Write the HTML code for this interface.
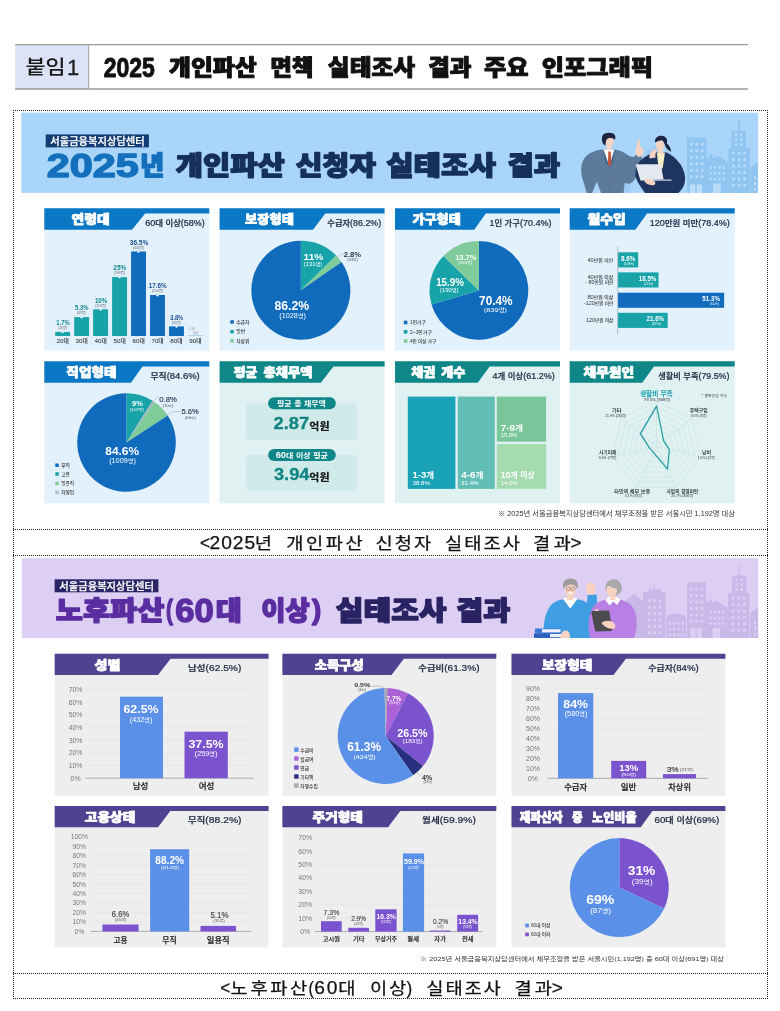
<!DOCTYPE html>
<html lang="ko"><head><meta charset="utf-8"><title>2025 개인파산 면책 실태조사 결과 주요 인포그래픽</title>
<style>html,body{margin:0;padding:0;background:#fff}body{width:780px;height:1011px;overflow:hidden}svg{display:block}text{font-family:'Liberation Sans','Noto Sans CJK KR',sans-serif}</style>
</head><body>
<svg width="780" height="1011" viewBox="0 0 780 1011" role="img" aria-label="개인파산 면책 실태조사 인포그래픽">
<rect x="0.00" y="0.00" width="780.00" height="1011.00" fill="#fff" />
<rect x="15.20" y="44.60" width="73.50" height="44.40" fill="#dde3f6" />
<path d="M15.2,44.6 H748 M15.2,89 H748" stroke="#9a9a9a" stroke-width="1.3" fill="none"/>
<path d="M88.7,44.6 V89" stroke="#a0a0a0" stroke-width="1" fill="none"/>
<text x="25.40" y="73.70" font-size="19.4" font-weight="500" fill="#1a1a1a" textLength="40.20" lengthAdjust="spacingAndGlyphs">붙임</text>
<text x="66.90" y="74.60" font-size="22" font-weight="400" fill="#1a1a1a" stroke="#1a1a1a" stroke-width="0.3" stroke-linejoin="round">1</text>
<text x="103.67" y="76.60" font-size="28.5" font-weight="900" fill="#111" textLength="51.20" lengthAdjust="spacingAndGlyphs" stroke="#111" stroke-width="0.95" stroke-linejoin="round">2025</text>
<text x="168.97" y="75.00" font-size="21.8" font-weight="900" fill="#111" textLength="87.81" lengthAdjust="spacingAndGlyphs" stroke="#111" stroke-width="0.95" stroke-linejoin="round">개인파산</text>
<text x="270.18" y="75.00" font-size="21.8" font-weight="900" fill="#111" textLength="43.40" lengthAdjust="spacingAndGlyphs" stroke="#111" stroke-width="0.95" stroke-linejoin="round">면책</text>
<text x="327.88" y="75.00" font-size="21.8" font-weight="900" fill="#111" textLength="87.31" lengthAdjust="spacingAndGlyphs" stroke="#111" stroke-width="0.95" stroke-linejoin="round">실태조사</text>
<text x="428.18" y="75.00" font-size="21.8" font-weight="900" fill="#111" textLength="43.40" lengthAdjust="spacingAndGlyphs" stroke="#111" stroke-width="0.95" stroke-linejoin="round">결과</text>
<text x="483.98" y="75.00" font-size="21.8" font-weight="900" fill="#111" textLength="44.62" lengthAdjust="spacingAndGlyphs" stroke="#111" stroke-width="0.95" stroke-linejoin="round">주요</text>
<text x="541.68" y="75.00" font-size="21.8" font-weight="900" fill="#111" textLength="111.23" lengthAdjust="spacingAndGlyphs" stroke="#111" stroke-width="0.95" stroke-linejoin="round">인포그래픽</text>
<g stroke="#222" stroke-width="1" stroke-dasharray="1 1" fill="none" shape-rendering="crispEdges">
<path d="M13,110.5 H768 M13,998.5 H768 M13.5,110 V999 M767.5,110 V999"/>
<path d="M13,529.5 H768 M13,555.5 H768 M13,973.5 H768"/>
</g>
<text x="199.90" y="548.70" font-size="17.6" font-weight="400" fill="#111" textLength="10.10" lengthAdjust="spacingAndGlyphs" stroke="#111" stroke-width="0.25" stroke-linejoin="round">&lt;</text>
<text x="209.62" y="548.70" font-size="17.6" font-weight="400" fill="#111" textLength="46.40" lengthAdjust="spacingAndGlyphs" letter-spacing="0.85" stroke="#111" stroke-width="0.25" stroke-linejoin="round">2025</text>
<text x="254.84" y="548.70" font-size="16.4" font-weight="400" fill="#111" textLength="19.32" lengthAdjust="spacingAndGlyphs" letter-spacing="1.84" stroke="#111" stroke-width="0.25" stroke-linejoin="round">년</text>
<text x="286.34" y="548.70" font-size="16.4" font-weight="400" fill="#111" textLength="79.07" lengthAdjust="spacingAndGlyphs" letter-spacing="2.23" stroke="#111" stroke-width="0.25" stroke-linejoin="round">개인파산</text>
<text x="375.64" y="548.70" font-size="16.4" font-weight="400" fill="#111" textLength="57.45" lengthAdjust="spacingAndGlyphs" letter-spacing="1.69" stroke="#111" stroke-width="0.25" stroke-linejoin="round">신청자</text>
<text x="445.04" y="548.70" font-size="16.4" font-weight="400" fill="#111" textLength="77.07" lengthAdjust="spacingAndGlyphs" letter-spacing="1.79" stroke="#111" stroke-width="0.25" stroke-linejoin="round">실태조사</text>
<text x="533.04" y="548.70" font-size="16.4" font-weight="400" fill="#111" textLength="41.20" lengthAdjust="spacingAndGlyphs" letter-spacing="2.96" stroke="#111" stroke-width="0.25" stroke-linejoin="round">결과</text>
<text x="570.50" y="548.70" font-size="17.6" font-weight="400" fill="#111" textLength="11.00" lengthAdjust="spacingAndGlyphs" stroke="#111" stroke-width="0.25" stroke-linejoin="round">&gt;</text>
<text x="220.30" y="993.60" font-size="17.6" font-weight="400" fill="#111" textLength="10.00" lengthAdjust="spacingAndGlyphs" stroke="#111" stroke-width="0.25" stroke-linejoin="round">&lt;</text>
<text x="230.54" y="993.60" font-size="16.4" font-weight="400" fill="#111" textLength="79.47" lengthAdjust="spacingAndGlyphs" letter-spacing="2.32" stroke="#111" stroke-width="0.25" stroke-linejoin="round">노후파산</text>
<text x="308.40" y="993.60" font-size="17.6" font-weight="400" fill="#111" textLength="5.30" lengthAdjust="spacingAndGlyphs" stroke="#111" stroke-width="0.25" stroke-linejoin="round">(</text>
<text x="314.32" y="993.60" font-size="17.6" font-weight="400" fill="#111" textLength="24.80" lengthAdjust="spacingAndGlyphs" letter-spacing="1.58" stroke="#111" stroke-width="0.25" stroke-linejoin="round">60</text>
<text x="338.24" y="993.60" font-size="16.4" font-weight="400" fill="#111" textLength="19.32" lengthAdjust="spacingAndGlyphs" letter-spacing="1.84" stroke="#111" stroke-width="0.25" stroke-linejoin="round">대</text>
<text x="370.04" y="993.60" font-size="16.4" font-weight="400" fill="#111" textLength="37.80" lengthAdjust="spacingAndGlyphs" letter-spacing="1.47" stroke="#111" stroke-width="0.25" stroke-linejoin="round">이상</text>
<text x="406.60" y="993.60" font-size="17.6" font-weight="400" fill="#111" textLength="5.70" lengthAdjust="spacingAndGlyphs" stroke="#111" stroke-width="0.25" stroke-linejoin="round">)</text>
<text x="426.34" y="993.60" font-size="16.4" font-weight="400" fill="#111" textLength="76.27" lengthAdjust="spacingAndGlyphs" letter-spacing="1.61" stroke="#111" stroke-width="0.25" stroke-linejoin="round">실태조사</text>
<text x="514.44" y="993.60" font-size="16.4" font-weight="400" fill="#111" textLength="40.40" lengthAdjust="spacingAndGlyphs" letter-spacing="2.61" stroke="#111" stroke-width="0.25" stroke-linejoin="round">결과</text>
<text x="551.80" y="993.60" font-size="17.6" font-weight="400" fill="#111" textLength="11.10" lengthAdjust="spacingAndGlyphs" stroke="#111" stroke-width="0.25" stroke-linejoin="round">&gt;</text>
<rect x="21.30" y="112.70" width="736.90" height="80.20" fill="#aad5fa" />
<rect x="45.70" y="134.40" width="103.20" height="13.00" fill="#123c73" />
<text x="97.50" y="144.70" font-size="10.2" font-weight="500" fill="#fff" text-anchor="middle" textLength="94.50" lengthAdjust="spacingAndGlyphs" stroke="#fff" stroke-width="0.25" stroke-linejoin="round">서울금융복지상담센터</text>
<text x="46.70" y="177.30" font-size="32.4" font-weight="900" fill="#1470bc" textLength="92.11" lengthAdjust="spacingAndGlyphs" stroke="#1470bc" stroke-width="1.4" stroke-linejoin="round">2025</text>
<text x="140.00" y="175.40" font-size="26.5" font-weight="900" fill="#1470bc" textLength="24.35" lengthAdjust="spacingAndGlyphs" stroke="#1470bc" stroke-width="1.4" stroke-linejoin="round">년</text>
<text x="175.80" y="175.40" font-size="26.5" font-weight="900" fill="#16305c" textLength="108.95" lengthAdjust="spacingAndGlyphs" stroke="#16305c" stroke-width="1.4" stroke-linejoin="round">개인파산</text>
<text x="295.80" y="175.40" font-size="26.5" font-weight="900" fill="#16305c" textLength="80.13" lengthAdjust="spacingAndGlyphs" stroke="#16305c" stroke-width="1.4" stroke-linejoin="round">신청자</text>
<text x="386.20" y="175.40" font-size="26.5" font-weight="900" fill="#16305c" textLength="109.76" lengthAdjust="spacingAndGlyphs" stroke="#16305c" stroke-width="1.4" stroke-linejoin="round">실태조사</text>
<text x="507.40" y="175.40" font-size="26.5" font-weight="900" fill="#16305c" textLength="52.72" lengthAdjust="spacingAndGlyphs" stroke="#16305c" stroke-width="1.4" stroke-linejoin="round">결과</text>
<rect x="44.30" y="208.30" width="165.00" height="142.30" fill="#e2f1fc" />
<rect x="219.60" y="208.30" width="165.00" height="142.30" fill="#e2f1fc" />
<rect x="395.00" y="208.30" width="165.00" height="142.30" fill="#e2f1fc" />
<rect x="569.70" y="208.30" width="165.00" height="142.30" fill="#e2f1fc" />
<path d="M44.30,208.30 H209.30 V213.40 L145.10,213.40 L132.00,229.80 H44.30 Z" fill="#0b78c6"/>
<text x="71.58" y="224.20" font-size="12.5" font-weight="900" fill="#fff" textLength="38.09" lengthAdjust="spacingAndGlyphs" stroke="#fff" stroke-width="0.75" stroke-linejoin="round">연령대</text>
<text x="145.30" y="225.50" font-size="8.6" font-weight="500" fill="#1c2740" textLength="59.50" lengthAdjust="spacingAndGlyphs" stroke="#1c2740" stroke-width="0.22">60<tspan font-size="8.00">대</tspan> <tspan font-size="8.00">이상</tspan>(58%)</text>
<path d="M219.60,208.30 H384.60 V213.40 L325.30,213.40 L313.00,229.80 H219.60 Z" fill="#0b78c6"/>
<text x="245.07" y="224.20" font-size="12.5" font-weight="900" fill="#fff" textLength="48.77" lengthAdjust="spacingAndGlyphs" stroke="#fff" stroke-width="0.75" stroke-linejoin="round">보장형태</text>
<text x="327.30" y="225.50" font-size="8.6" font-weight="500" fill="#1c2740" textLength="53.90" lengthAdjust="spacingAndGlyphs" stroke="#1c2740" stroke-width="0.22"><tspan font-size="8.00">수급자</tspan>(86.2%)</text>
<path d="M395.00,208.30 H560.00 V213.40 L485.80,213.40 L474.20,229.80 H395.00 Z" fill="#0b78c6"/>
<text x="412.47" y="224.20" font-size="12.5" font-weight="900" fill="#fff" textLength="48.27" lengthAdjust="spacingAndGlyphs" stroke="#fff" stroke-width="0.75" stroke-linejoin="round">가구형태</text>
<text x="489.40" y="225.50" font-size="8.6" font-weight="500" fill="#1c2740" textLength="62.10" lengthAdjust="spacingAndGlyphs" stroke="#1c2740" stroke-width="0.22">1<tspan font-size="8.00">인</tspan> <tspan font-size="8.00">가구</tspan>(70.4%)</text>
<path d="M569.70,208.30 H734.70 V213.40 L647.00,213.40 L635.40,229.80 H569.70 Z" fill="#0b78c6"/>
<text x="587.48" y="224.20" font-size="12.5" font-weight="900" fill="#fff" textLength="38.39" lengthAdjust="spacingAndGlyphs" stroke="#fff" stroke-width="0.75" stroke-linejoin="round">월수입</text>
<text x="649.70" y="225.50" font-size="8.6" font-weight="500" fill="#1c2740" textLength="80.10" lengthAdjust="spacingAndGlyphs" stroke="#1c2740" stroke-width="0.22">120<tspan font-size="8.00">만원</tspan> <tspan font-size="8.00">미만</tspan>(78.4%)</text>
<path d="M51,336.0 H203" stroke="#cfe3f2" stroke-width="0.5"/>
<rect x="55.20" y="331.90" width="14.90" height="4.10" fill="#18a3a8" />
<circle cx="62.65" cy="332.10" r="1.25" fill="#fff" stroke="#18a3a8" stroke-width="0.25"/>
<text x="56.35" y="325.10" font-size="6.9" font-weight="700" fill="#12898f" textLength="13.50" lengthAdjust="spacingAndGlyphs">1.7%</text>
<text x="62.65" y="329.20" font-size="3.4" font-weight="400" fill="#666" text-anchor="middle">(20명)</text>
<text x="56.55" y="342.70" font-size="5.8" font-weight="500" fill="#222" textLength="12.30" lengthAdjust="spacingAndGlyphs">20<tspan font-size="5.34">대</tspan></text>
<rect x="74.17" y="317.10" width="14.90" height="18.90" fill="#18a3a8" />
<circle cx="81.62" cy="317.30" r="1.25" fill="#fff" stroke="#18a3a8" stroke-width="0.25"/>
<text x="75.05" y="310.30" font-size="6.9" font-weight="700" fill="#12898f" textLength="13.30" lengthAdjust="spacingAndGlyphs">5.3%</text>
<text x="81.62" y="314.40" font-size="3.4" font-weight="400" fill="#666" text-anchor="middle">(63명)</text>
<text x="75.52" y="342.70" font-size="5.8" font-weight="500" fill="#222" textLength="12.30" lengthAdjust="spacingAndGlyphs">30<tspan font-size="5.34">대</tspan></text>
<rect x="93.14" y="309.30" width="14.90" height="26.70" fill="#18a3a8" />
<circle cx="100.59" cy="309.50" r="1.25" fill="#fff" stroke="#18a3a8" stroke-width="0.25"/>
<text x="94.95" y="302.50" font-size="6.9" font-weight="700" fill="#12898f" textLength="12.30" lengthAdjust="spacingAndGlyphs">10%</text>
<text x="100.59" y="306.60" font-size="3.4" font-weight="400" fill="#666" text-anchor="middle">(119명)</text>
<text x="94.49" y="342.70" font-size="5.8" font-weight="500" fill="#222" textLength="12.30" lengthAdjust="spacingAndGlyphs">40<tspan font-size="5.34">대</tspan></text>
<rect x="112.11" y="277.10" width="14.90" height="58.90" fill="#18a3a8" />
<circle cx="119.56" cy="277.30" r="1.25" fill="#fff" stroke="#18a3a8" stroke-width="0.25"/>
<text x="113.35" y="270.30" font-size="6.9" font-weight="700" fill="#12898f" textLength="13.00" lengthAdjust="spacingAndGlyphs">25%</text>
<text x="119.56" y="274.40" font-size="3.4" font-weight="400" fill="#666" text-anchor="middle">(298명)</text>
<text x="113.46" y="342.70" font-size="5.8" font-weight="500" fill="#222" textLength="12.30" lengthAdjust="spacingAndGlyphs">50<tspan font-size="5.34">대</tspan></text>
<rect x="131.08" y="251.50" width="14.90" height="84.50" fill="#116bbd" />
<circle cx="138.53" cy="251.70" r="1.25" fill="#fff" stroke="#116bbd" stroke-width="0.25"/>
<text x="129.75" y="244.70" font-size="6.9" font-weight="700" fill="#1a4f92" textLength="18.50" lengthAdjust="spacingAndGlyphs">36.5%</text>
<text x="138.53" y="248.80" font-size="3.4" font-weight="400" fill="#666" text-anchor="middle">(435명)</text>
<text x="132.43" y="342.70" font-size="5.8" font-weight="500" fill="#222" textLength="12.30" lengthAdjust="spacingAndGlyphs">60<tspan font-size="5.34">대</tspan></text>
<rect x="150.05" y="295.00" width="14.90" height="41.00" fill="#116bbd" />
<circle cx="157.50" cy="295.20" r="1.25" fill="#fff" stroke="#116bbd" stroke-width="0.25"/>
<text x="148.65" y="288.20" font-size="6.9" font-weight="700" fill="#1a4f92" textLength="18.10" lengthAdjust="spacingAndGlyphs">17.6%</text>
<text x="157.50" y="292.30" font-size="3.4" font-weight="400" fill="#666" text-anchor="middle">(210명)</text>
<text x="151.40" y="342.70" font-size="5.8" font-weight="500" fill="#222" textLength="12.30" lengthAdjust="spacingAndGlyphs">70<tspan font-size="5.34">대</tspan></text>
<rect x="169.02" y="326.40" width="14.90" height="9.60" fill="#116bbd" />
<circle cx="176.47" cy="326.60" r="1.25" fill="#fff" stroke="#116bbd" stroke-width="0.25"/>
<text x="170.25" y="319.60" font-size="6.9" font-weight="700" fill="#1a4f92" textLength="12.90" lengthAdjust="spacingAndGlyphs">3.8%</text>
<text x="176.47" y="323.70" font-size="3.4" font-weight="400" fill="#666" text-anchor="middle">(45명)</text>
<text x="170.37" y="342.70" font-size="5.8" font-weight="500" fill="#222" textLength="12.30" lengthAdjust="spacingAndGlyphs">80<tspan font-size="5.34">대</tspan></text>
<rect x="187.99" y="335.80" width="14.90" height="0.20" fill="#116bbd" />
<text x="189.35" y="329.60" font-size="2.8" font-weight="400" fill="#8a8a8a" textLength="5.60" lengthAdjust="spacingAndGlyphs">0.1%</text>
<text x="195.44" y="333.60" font-size="2.6" font-weight="400" fill="#8a8a8a" text-anchor="middle">(1명)</text>
<text x="189.34" y="342.70" font-size="5.8" font-weight="500" fill="#222" textLength="12.30" lengthAdjust="spacingAndGlyphs">90<tspan font-size="5.34">대</tspan></text>
<path d="M300.85,290.30 L300.85,240.80 A49.5,49.5 0 0 1 336.16,255.60 Z" fill="#18a3a8"/>
<path d="M300.85,290.30 L336.16,255.60 A49.5,49.5 0 0 1 341.55,262.12 Z" fill="#7fcb9a"/>
<path d="M300.85,290.30 L341.55,262.12 A49.5,49.5 0 1 1 300.85,240.80 Z" fill="#116bbd"/>
<text x="303.55" y="259.60" font-size="9.8" font-weight="700" fill="#fff" textLength="19.80" lengthAdjust="spacingAndGlyphs">11%</text>
<text x="303.55" y="266.30" font-size="5.4" font-weight="400" fill="#fff" textLength="18.80" lengthAdjust="spacingAndGlyphs">(131<tspan font-size="4.54">명</tspan>)</text>
<text x="274.45" y="309.90" font-size="12.2" font-weight="700" fill="#fff" textLength="34.70" lengthAdjust="spacingAndGlyphs">86.2%</text>
<text x="279.35" y="317.80" font-size="6.5" font-weight="400" fill="#fff" textLength="26.60" lengthAdjust="spacingAndGlyphs">(1028<tspan font-size="5.46">명</tspan>)</text>
<path d="M338.2,257 L341.8,254 L343.8,254" stroke="#8a8a8a" stroke-width="0.4" fill="none"/>
<text x="343.75" y="256.70" font-size="6.7" font-weight="700" fill="#2a3550" textLength="17.40" lengthAdjust="spacingAndGlyphs">2.8%</text>
<text x="347.15" y="261.40" font-size="3.4" font-weight="400" fill="#555" textLength="10.90" lengthAdjust="spacingAndGlyphs">(33<tspan font-size="2.86">명</tspan>)</text>
<rect x="230.30" y="320.20" width="3.50" height="3.50" fill="#116bbd" />
<text x="236.15" y="323.60" font-size="4.6" font-weight="500" fill="#333" textLength="13.20" lengthAdjust="spacingAndGlyphs"><tspan font-size="4.60">수급자</tspan></text>
<rect x="230.30" y="329.90" width="3.50" height="3.50" fill="#18a3a8" />
<text x="236.15" y="333.30" font-size="4.6" font-weight="500" fill="#333" textLength="9.00" lengthAdjust="spacingAndGlyphs"><tspan font-size="4.60">일반</tspan></text>
<rect x="230.30" y="339.10" width="3.50" height="3.50" fill="#7fcb9a" />
<text x="236.15" y="342.50" font-size="4.6" font-weight="500" fill="#333" textLength="13.20" lengthAdjust="spacingAndGlyphs"><tspan font-size="4.60">차상위</tspan></text>
<path d="M478.90,290.40 L478.90,241.00 A49.4,49.4 0 1 1 431.58,304.60 Z" fill="#116bbd"/>
<path d="M478.90,290.40 L431.58,304.60 A49.4,49.4 0 0 1 443.48,255.96 Z" fill="#18a3a8"/>
<path d="M478.90,290.40 L443.48,255.96 A49.4,49.4 0 0 1 478.90,241.00 Z" fill="#7fcb9a"/>
<text x="479.05" y="305.20" font-size="11.9" font-weight="700" fill="#fff" textLength="33.60" lengthAdjust="spacingAndGlyphs">70.4%</text>
<text x="483.65" y="312.40" font-size="6.2" font-weight="400" fill="#fff" textLength="23.30" lengthAdjust="spacingAndGlyphs">(839<tspan font-size="5.21">명</tspan>)</text>
<text x="436.15" y="285.60" font-size="10.2" font-weight="700" fill="#fff" textLength="27.90" lengthAdjust="spacingAndGlyphs">15.9%</text>
<text x="439.85" y="291.90" font-size="5.3" font-weight="400" fill="#fff" textLength="18.70" lengthAdjust="spacingAndGlyphs">(190<tspan font-size="4.45">명</tspan>)</text>
<text x="455.15" y="259.60" font-size="7.8" font-weight="700" fill="#fff" textLength="21.30" lengthAdjust="spacingAndGlyphs">13.7%</text>
<text x="458.35" y="264.00" font-size="3.8" font-weight="400" fill="#fff" textLength="13.70" lengthAdjust="spacingAndGlyphs">(163<tspan font-size="3.19">명</tspan>)</text>
<rect x="403.80" y="320.70" width="3.60" height="3.60" fill="#116bbd" />
<text x="410.05" y="324.20" font-size="4.6" font-weight="500" fill="#333" textLength="15.80" lengthAdjust="spacingAndGlyphs">1<tspan font-size="4.60">인가구</tspan></text>
<rect x="403.80" y="330.00" width="3.60" height="3.60" fill="#18a3a8" />
<text x="410.05" y="333.50" font-size="4.6" font-weight="500" fill="#333" textLength="21.90" lengthAdjust="spacingAndGlyphs">2~3<tspan font-size="4.60">인가구</tspan></text>
<rect x="403.80" y="339.20" width="3.60" height="3.60" fill="#7fcb9a" />
<text x="410.05" y="342.70" font-size="4.6" font-weight="500" fill="#333" textLength="26.30" lengthAdjust="spacingAndGlyphs">4<tspan font-size="4.60">인</tspan> <tspan font-size="4.60">이상</tspan> <tspan font-size="4.60">가구</tspan></text>
<path d="M617.7,246.2 V334.4" stroke="#8a9aa2" stroke-width="0.6"/>
<rect x="618.10" y="252.30" width="20.10" height="15.10" fill="#18a3a8" />
<text x="620.95" y="260.90" font-size="6.6" font-weight="700" fill="#fff" textLength="14.30" lengthAdjust="spacingAndGlyphs">8.6%</text>
<text x="623.75" y="264.70" font-size="3.2" font-weight="400" fill="#fff" textLength="10.10" lengthAdjust="spacingAndGlyphs">(103<tspan font-size="2.69">명</tspan>)</text>
<text x="587.45" y="261.90" font-size="5.2" font-weight="500" fill="#333" textLength="25.90" lengthAdjust="spacingAndGlyphs">40<tspan font-size="4.47">만원</tspan> <tspan font-size="4.47">미만</tspan></text>
<rect x="618.10" y="272.40" width="40.40" height="15.10" fill="#18a3a8" />
<text x="638.75" y="281.00" font-size="6.6" font-weight="700" fill="#fff" textLength="17.60" lengthAdjust="spacingAndGlyphs">18.5%</text>
<text x="644.05" y="284.80" font-size="3.2" font-weight="400" fill="#fff" textLength="9.30" lengthAdjust="spacingAndGlyphs">(221<tspan font-size="2.69">명</tspan>)</text>
<text x="587.45" y="279.00" font-size="5.2" font-weight="500" fill="#333" textLength="25.90" lengthAdjust="spacingAndGlyphs">40<tspan font-size="4.47">만원</tspan> <tspan font-size="4.47">이상</tspan></text>
<text x="585.05" y="284.20" font-size="5.2" font-weight="500" fill="#333" textLength="28.30" lengthAdjust="spacingAndGlyphs">- 80<tspan font-size="4.47">만원</tspan> <tspan font-size="4.47">미만</tspan></text>
<rect x="618.10" y="292.70" width="106.00" height="15.10" fill="#116bbd" />
<text x="702.35" y="301.30" font-size="6.6" font-weight="700" fill="#fff" textLength="17.60" lengthAdjust="spacingAndGlyphs">51.3%</text>
<text x="710.15" y="305.10" font-size="3.2" font-weight="400" fill="#fff" textLength="8.80" lengthAdjust="spacingAndGlyphs">(612<tspan font-size="2.69">명</tspan>)</text>
<text x="587.45" y="299.40" font-size="5.2" font-weight="500" fill="#333" textLength="25.90" lengthAdjust="spacingAndGlyphs">80<tspan font-size="4.47">만원</tspan> <tspan font-size="4.47">이상</tspan></text>
<text x="583.95" y="304.60" font-size="5.2" font-weight="500" fill="#333" textLength="29.40" lengthAdjust="spacingAndGlyphs">-120<tspan font-size="4.47">만원</tspan> <tspan font-size="4.47">미만</tspan></text>
<rect x="618.10" y="312.80" width="49.60" height="15.10" fill="#18a3a8" />
<text x="646.55" y="321.40" font-size="6.6" font-weight="700" fill="#fff" textLength="17.60" lengthAdjust="spacingAndGlyphs">21.6%</text>
<text x="651.65" y="325.20" font-size="3.2" font-weight="400" fill="#fff" textLength="9.40" lengthAdjust="spacingAndGlyphs">(257<tspan font-size="2.69">명</tspan>)</text>
<text x="586.05" y="322.30" font-size="5.2" font-weight="500" fill="#333" textLength="27.30" lengthAdjust="spacingAndGlyphs">120<tspan font-size="4.47">만원</tspan> <tspan font-size="4.47">이상</tspan></text>
<rect x="44.30" y="361.30" width="165.00" height="142.00" fill="#e2f1fc" />
<rect x="219.60" y="361.30" width="165.00" height="142.00" fill="#dff1f1" />
<rect x="395.00" y="361.30" width="165.00" height="142.00" fill="#dff1f1" />
<rect x="569.70" y="361.30" width="165.00" height="142.00" fill="#dff1f1" />
<path d="M44.30,361.30 H209.30 V366.40 L142.50,366.40 L131.00,382.80 H44.30 Z" fill="#0b78c6"/>
<text x="66.38" y="377.20" font-size="12.5" font-weight="900" fill="#fff" textLength="50.19" lengthAdjust="spacingAndGlyphs" stroke="#fff" stroke-width="0.75" stroke-linejoin="round">직업형태</text>
<text x="150.50" y="378.50" font-size="8.6" font-weight="500" fill="#1c2740" textLength="49.20" lengthAdjust="spacingAndGlyphs" stroke="#1c2740" stroke-width="0.22"><tspan font-size="8.00">무직</tspan>(84.6%)</text>
<path d="M219.60,361.30 H384.60 V366.40 L333.50,366.40 L320.80,382.80 H219.60 Z" fill="#0f8688"/>
<text x="233.77" y="377.20" font-size="12.5" font-weight="900" fill="#fff" textLength="23.56" lengthAdjust="spacingAndGlyphs" stroke="#fff" stroke-width="0.75" stroke-linejoin="round">평균</text>
<text x="263.57" y="377.20" font-size="12.5" font-weight="900" fill="#fff" textLength="48.98" lengthAdjust="spacingAndGlyphs" stroke="#fff" stroke-width="0.75" stroke-linejoin="round">총채무액</text>
<path d="M395.00,361.30 H560.00 V366.40 L489.70,366.40 L477.70,382.80 H395.00 Z" fill="#0f8688"/>
<text x="411.27" y="377.20" font-size="12.5" font-weight="900" fill="#fff" textLength="24.07" lengthAdjust="spacingAndGlyphs" stroke="#fff" stroke-width="0.75" stroke-linejoin="round">채권</text>
<text x="441.27" y="377.20" font-size="12.5" font-weight="900" fill="#fff" textLength="24.07" lengthAdjust="spacingAndGlyphs" stroke="#fff" stroke-width="0.75" stroke-linejoin="round">개수</text>
<text x="492.40" y="378.50" font-size="8.6" font-weight="500" fill="#1c2740" textLength="62.40" lengthAdjust="spacingAndGlyphs" stroke="#1c2740" stroke-width="0.22">4<tspan font-size="8.00">개</tspan> <tspan font-size="8.00">이상</tspan>(61.2%)</text>
<path d="M569.70,361.30 H734.70 V366.40 L653.90,366.40 L642.30,382.80 H569.70 Z" fill="#0f8688"/>
<text x="583.58" y="377.20" font-size="12.5" font-weight="900" fill="#fff" textLength="50.59" lengthAdjust="spacingAndGlyphs" stroke="#fff" stroke-width="0.75" stroke-linejoin="round">채무원인</text>
<text x="658.20" y="378.50" font-size="8.6" font-weight="500" fill="#1c2740" textLength="71.20" lengthAdjust="spacingAndGlyphs" stroke="#1c2740" stroke-width="0.22"><tspan font-size="8.00">생활비</tspan> <tspan font-size="8.00">부족</tspan>(79.5%)</text>
<path d="M126.50,442.50 L126.50,393.20 A49.3,49.3 0 0 1 152.63,400.69 Z" fill="#18a3a8"/>
<path d="M126.50,442.50 L152.63,400.69 A49.3,49.3 0 0 1 154.49,401.92 Z" fill="#a9b7bd"/>
<path d="M126.50,442.50 L154.49,401.92 A49.3,49.3 0 0 1 167.71,415.43 Z" fill="#7fcb9a"/>
<path d="M126.50,442.50 L167.71,415.43 A49.3,49.3 0 1 1 126.50,393.20 Z" fill="#116bbd"/>
<text x="132.05" y="406.10" font-size="8.1" font-weight="700" fill="#fff" textLength="10.80" lengthAdjust="spacingAndGlyphs">9%</text>
<text x="129.85" y="410.60" font-size="3.7" font-weight="400" fill="#fff" textLength="14.30" lengthAdjust="spacingAndGlyphs">(107<tspan font-size="3.11">명</tspan>)</text>
<text x="105.25" y="455.40" font-size="11.7" font-weight="700" fill="#fff" textLength="33.90" lengthAdjust="spacingAndGlyphs">84.6%</text>
<text x="109.15" y="463.00" font-size="6.4" font-weight="400" fill="#fff" textLength="26.70" lengthAdjust="spacingAndGlyphs">(1009<tspan font-size="5.38">명</tspan>)</text>
<path d="M152.6,401.6 L157.8,397 L158.6,397" stroke="#8a8a8a" stroke-width="0.4" fill="none"/>
<path d="M166,415.5 L172.6,411.6 L180.9,411.6" stroke="#8a8a8a" stroke-width="0.4" fill="none"/>
<text x="159.25" y="402.00" font-size="7.6" font-weight="500" fill="#2a3550" textLength="17.60" lengthAdjust="spacingAndGlyphs" stroke="#2a3550" stroke-width="0.15">0.8%</text>
<text x="162.55" y="406.50" font-size="3.2" font-weight="400" fill="#555" textLength="10.80" lengthAdjust="spacingAndGlyphs">(10<tspan font-size="2.69">명</tspan>)</text>
<text x="181.45" y="414.00" font-size="7.6" font-weight="500" fill="#2a3550" textLength="17.20" lengthAdjust="spacingAndGlyphs" stroke="#2a3550" stroke-width="0.15">5.6%</text>
<text x="184.95" y="418.50" font-size="3.2" font-weight="400" fill="#555" textLength="10.90" lengthAdjust="spacingAndGlyphs">(66<tspan font-size="2.69">명</tspan>)</text>
<rect x="55.30" y="463.50" width="3.50" height="3.50" fill="#116bbd" />
<text x="61.15" y="466.90" font-size="4.6" font-weight="500" fill="#333" textLength="8.70" lengthAdjust="spacingAndGlyphs"><tspan font-size="4.60">무직</tspan></text>
<rect x="55.30" y="472.20" width="3.50" height="3.50" fill="#18a3a8" />
<text x="61.15" y="475.60" font-size="4.6" font-weight="500" fill="#333" textLength="8.70" lengthAdjust="spacingAndGlyphs"><tspan font-size="4.60">고용</tspan></text>
<rect x="55.30" y="481.60" width="3.50" height="3.50" fill="#7fcb9a" />
<text x="61.15" y="485.00" font-size="4.6" font-weight="500" fill="#333" textLength="13.00" lengthAdjust="spacingAndGlyphs"><tspan font-size="4.60">일용직</tspan></text>
<rect x="55.30" y="490.70" width="3.50" height="3.50" fill="#b9bcc0" />
<text x="61.15" y="494.10" font-size="4.6" font-weight="500" fill="#333" textLength="13.00" lengthAdjust="spacingAndGlyphs"><tspan font-size="4.60">자영업</tspan></text>
<rect x="246.10" y="403.50" width="111.20" height="36.50" fill="#cfeae8" rx="4.5"/>
<rect x="268.10" y="397.30" width="67.70" height="11.90" fill="#0f8688" rx="5.95"/>
<text x="277.05" y="406.20" font-size="8.4" font-weight="700" fill="#fff" textLength="48.80" lengthAdjust="spacingAndGlyphs"><tspan font-size="7.22">평균</tspan> <tspan font-size="7.22">총</tspan> <tspan font-size="7.22">채무액</tspan></text>
<text x="273.55" y="429.10" font-size="15.8" font-weight="700" fill="#128583" textLength="35.50" lengthAdjust="spacingAndGlyphs" stroke="#128583" stroke-width="0.3">2.87</text>
<text x="309.25" y="429.60" font-size="10.3" font-weight="900" fill="#1a1a1a" textLength="20.30" lengthAdjust="spacingAndGlyphs"><tspan font-size="10.30">억원</tspan></text>
<rect x="246.10" y="454.70" width="111.20" height="36.30" fill="#cfeae8" rx="4.5"/>
<rect x="268.10" y="449.00" width="67.70" height="11.90" fill="#0f8688" rx="5.95"/>
<text x="275.65" y="457.90" font-size="8.4" font-weight="700" fill="#fff" textLength="52.30" lengthAdjust="spacingAndGlyphs">60<tspan font-size="7.22">대</tspan> <tspan font-size="7.22">이상</tspan> <tspan font-size="7.22">평균</tspan></text>
<text x="273.95" y="480.40" font-size="15.8" font-weight="700" fill="#128583" textLength="35.50" lengthAdjust="spacingAndGlyphs" stroke="#128583" stroke-width="0.3">3.94</text>
<text x="309.25" y="480.90" font-size="10.3" font-weight="900" fill="#1a1a1a" textLength="20.30" lengthAdjust="spacingAndGlyphs"><tspan font-size="10.30">억원</tspan></text>
<rect x="407.80" y="396.60" width="47.60" height="92.30" fill="#1aa3b6" />
<rect x="457.80" y="396.60" width="37.00" height="92.30" fill="#62beb4" />
<rect x="496.80" y="396.60" width="49.30" height="45.10" fill="#79c69a" />
<rect x="496.80" y="444.00" width="49.30" height="44.90" fill="#a6dbb0" />
<text x="412.45" y="478.10" font-size="9.6" font-weight="700" fill="#fff" textLength="21.70" lengthAdjust="spacingAndGlyphs">1-3<tspan font-size="8.45">개</tspan></text>
<text x="412.45" y="484.80" font-size="5.5" font-weight="400" fill="#fff" textLength="17.60" lengthAdjust="spacingAndGlyphs">38.8%</text>
<text x="461.25" y="478.10" font-size="9.6" font-weight="700" fill="#fff" textLength="22.20" lengthAdjust="spacingAndGlyphs">4-6<tspan font-size="8.45">개</tspan></text>
<text x="461.25" y="484.80" font-size="5.5" font-weight="400" fill="#fff" textLength="17.10" lengthAdjust="spacingAndGlyphs">31.4%</text>
<text x="500.65" y="430.90" font-size="9.6" font-weight="700" fill="#fff" textLength="22.40" lengthAdjust="spacingAndGlyphs">7-9<tspan font-size="8.45">개</tspan></text>
<text x="500.65" y="437.20" font-size="5.5" font-weight="400" fill="#fff" textLength="16.60" lengthAdjust="spacingAndGlyphs">15.8%</text>
<text x="500.65" y="478.10" font-size="9.6" font-weight="700" fill="#fff" textLength="34.10" lengthAdjust="spacingAndGlyphs">10<tspan font-size="8.45">개</tspan> <tspan font-size="8.45">이상</tspan></text>
<text x="500.65" y="484.80" font-size="5.5" font-weight="400" fill="#fff" textLength="17.00" lengthAdjust="spacingAndGlyphs">14.0%</text>
<g stroke="#c5d8d8" stroke-width="0.4" fill="none">
<polygon points="656.60,440.86 661.01,442.99 662.10,447.75 659.05,451.58 654.15,451.58 651.10,447.75 652.19,442.99"/>
<polygon points="656.60,435.23 665.42,439.47 667.59,449.01 661.49,456.66 651.71,456.66 645.61,449.01 647.78,439.47"/>
<polygon points="656.60,429.59 669.82,435.96 673.09,450.26 663.94,461.74 649.26,461.74 640.11,450.26 643.38,435.96"/>
<polygon points="656.60,423.95 674.23,432.44 678.58,451.52 666.38,466.82 646.82,466.82 634.62,451.52 638.97,432.44"/>
<polygon points="656.60,418.31 678.64,428.93 684.08,452.77 668.83,471.90 644.37,471.90 629.12,452.77 634.56,428.93"/>
<polygon points="656.60,412.68 683.05,425.41 689.58,454.03 671.28,476.98 641.92,476.98 623.62,454.03 630.15,425.41"/>
<polygon points="656.60,407.04 687.45,421.90 695.07,455.28 673.72,482.05 639.48,482.05 618.13,455.28 625.75,421.90"/>
<polygon points="656.60,401.40 691.86,418.38 700.57,456.54 676.17,487.13 637.03,487.13 612.63,456.54 621.34,418.38"/>
<path d="M656.6,446.5 L656.60,401.40"/>
<path d="M656.6,446.5 L691.86,418.38"/>
<path d="M656.6,446.5 L700.57,456.54"/>
<path d="M656.6,446.5 L676.17,487.13"/>
<path d="M656.6,446.5 L637.03,487.13"/>
<path d="M656.6,446.5 L612.63,456.54"/>
<path d="M656.6,446.5 L621.34,418.38"/>
</g>
<polygon points="656.60,406.14 663.65,440.88 669.35,449.41 667.50,469.13 653.66,452.60 649.56,448.11 640.38,433.57" fill="none" stroke="#1a9a9f" stroke-width="1.2" stroke-linejoin="round"/>
<text x="639.95" y="396.40" font-size="7.4" font-weight="700" fill="#1a9fb0" textLength="32.80" lengthAdjust="spacingAndGlyphs"><tspan font-size="7.40">생활비</tspan> <tspan font-size="7.40">부족</tspan></text>
<text x="643.85" y="401.20" font-size="4.2" font-weight="400" fill="#333" textLength="26.30" lengthAdjust="spacingAndGlyphs">79.5% (948<tspan font-size="3.53">명</tspan>)</text>
<text x="701.55" y="397.00" font-size="3.9" font-weight="400" fill="#333" textLength="25.60" lengthAdjust="spacingAndGlyphs">* <tspan font-size="3.51">중복응답</tspan> <tspan font-size="3.51">가능</tspan></text>
<text x="689.65" y="412.40" font-size="4.9" font-weight="500" fill="#222" textLength="18.00" lengthAdjust="spacingAndGlyphs"><tspan font-size="4.90">주택구입</tspan></text>
<text x="690.65" y="416.80" font-size="3.4" font-weight="400" fill="#333" textLength="16.00" lengthAdjust="spacingAndGlyphs">0.5% (6<tspan font-size="2.86">명</tspan>)</text>
<text x="701.95" y="454.30" font-size="4.9" font-weight="500" fill="#222" textLength="9.20" lengthAdjust="spacingAndGlyphs"><tspan font-size="4.90">낭비</tspan></text>
<text x="697.85" y="458.70" font-size="3.4" font-weight="400" fill="#333" textLength="17.00" lengthAdjust="spacingAndGlyphs">1.0% (12<tspan font-size="2.86">명</tspan>)</text>
<text x="666.45" y="493.00" font-size="4.9" font-weight="500" fill="#222" textLength="32.00" lengthAdjust="spacingAndGlyphs"><tspan font-size="4.90">사업의</tspan> <tspan font-size="4.90">경영파탄</tspan></text>
<text x="671.15" y="497.40" font-size="3.4" font-weight="400" fill="#333" textLength="22.10" lengthAdjust="spacingAndGlyphs">25.7% (306<tspan font-size="2.86">명</tspan>)</text>
<text x="614.15" y="493.00" font-size="4.9" font-weight="500" fill="#222" textLength="36.10" lengthAdjust="spacingAndGlyphs"><tspan font-size="4.90">타인의</tspan> <tspan font-size="4.90">채무</tspan> <tspan font-size="4.90">보증</tspan></text>
<text x="625.05" y="497.40" font-size="3.4" font-weight="400" fill="#333" textLength="17.00" lengthAdjust="spacingAndGlyphs">5.1% (61<tspan font-size="2.86">명</tspan>)</text>
<text x="598.95" y="454.30" font-size="4.9" font-weight="500" fill="#222" textLength="17.40" lengthAdjust="spacingAndGlyphs"><tspan font-size="4.90">사기피해</tspan></text>
<text x="598.95" y="458.70" font-size="3.4" font-weight="400" fill="#333" textLength="17.40" lengthAdjust="spacingAndGlyphs">6.6% (79<tspan font-size="2.86">명</tspan>)</text>
<text x="611.65" y="412.40" font-size="4.9" font-weight="500" fill="#222" textLength="9.90" lengthAdjust="spacingAndGlyphs"><tspan font-size="4.90">기타</tspan></text>
<text x="605.15" y="416.80" font-size="3.4" font-weight="400" fill="#333" textLength="21.10" lengthAdjust="spacingAndGlyphs">21.9% (261<tspan font-size="2.86">명</tspan>)</text>
<text x="735.00" y="515.60" font-size="6.3" font-weight="400" fill="#333" text-anchor="end" textLength="237.00" lengthAdjust="spacingAndGlyphs">※ 2025년 서울금융복지상담센터에서 채무조정을 받은 서울시민 1,192명 대상</text>
<rect x="21.80" y="558.20" width="736.50" height="79.90" fill="#ddcff4" />
<rect x="54.60" y="579.30" width="103.80" height="13.00" fill="#2b2565" />
<text x="106.60" y="589.60" font-size="10.2" font-weight="500" fill="#fff" text-anchor="middle" textLength="94.50" lengthAdjust="spacingAndGlyphs" stroke="#fff" stroke-width="0.25" stroke-linejoin="round">서울금융복지상담센터</text>
<text x="55.80" y="620.40" font-size="26.5" font-weight="900" fill="#5a2da0" textLength="108.55" lengthAdjust="spacingAndGlyphs" stroke="#5a2da0" stroke-width="1.4" stroke-linejoin="round">노후파산</text>
<text x="166.10" y="618.50" font-size="28.5" font-weight="900" fill="#5a2da0" textLength="6.86" lengthAdjust="spacingAndGlyphs" stroke="#5a2da0" stroke-width="1.4" stroke-linejoin="round">(</text>
<text x="175.30" y="622.20" font-size="33.2" font-weight="900" fill="#5a2da0" textLength="38.48" lengthAdjust="spacingAndGlyphs" stroke="#5a2da0" stroke-width="1.4" stroke-linejoin="round">60</text>
<text x="215.70" y="620.40" font-size="26.5" font-weight="900" fill="#5a2da0" textLength="26.01" lengthAdjust="spacingAndGlyphs" stroke="#5a2da0" stroke-width="1.4" stroke-linejoin="round">대</text>
<text x="261.20" y="620.40" font-size="26.5" font-weight="900" fill="#5a2da0" textLength="48.45" lengthAdjust="spacingAndGlyphs" stroke="#5a2da0" stroke-width="1.4" stroke-linejoin="round">이상</text>
<text x="311.90" y="618.50" font-size="28.5" font-weight="900" fill="#5a2da0" textLength="9.24" lengthAdjust="spacingAndGlyphs" stroke="#5a2da0" stroke-width="1.4" stroke-linejoin="round">)</text>
<text x="335.80" y="620.40" font-size="26.5" font-weight="900" fill="#2a2363" textLength="110.77" lengthAdjust="spacingAndGlyphs" stroke="#2a2363" stroke-width="1.4" stroke-linejoin="round">실태조사</text>
<text x="456.20" y="620.40" font-size="26.5" font-weight="900" fill="#2a2363" textLength="53.94" lengthAdjust="spacingAndGlyphs" stroke="#2a2363" stroke-width="1.4" stroke-linejoin="round">결과</text>
<rect x="54.70" y="653.70" width="213.90" height="142.00" fill="#eeeeee" />
<rect x="282.40" y="653.70" width="213.90" height="142.00" fill="#eeeeee" />
<rect x="511.50" y="653.70" width="213.90" height="142.00" fill="#eeeeee" />
<path d="M54.70,653.70 H268.60 V658.80 L170.60,658.80 L158.00,675.00 H54.70 Z" fill="#514191"/>
<text x="94.58" y="669.60" font-size="12.0" font-weight="900" fill="#fff" textLength="26.00" lengthAdjust="spacingAndGlyphs" stroke="#fff" stroke-width="0.75" stroke-linejoin="round">성별</text>
<text x="188.10" y="671.00" font-size="8.6" font-weight="500" fill="#1c2740" textLength="53.20" lengthAdjust="spacingAndGlyphs" stroke="#1c2740" stroke-width="0.22"><tspan font-size="8.00">남성</tspan>(62.5%)</text>
<path d="M282.40,653.70 H496.30 V658.80 L403.90,658.80 L391.50,675.00 H282.40 Z" fill="#514191"/>
<text x="314.88" y="669.60" font-size="12.0" font-weight="900" fill="#fff" textLength="48.98" lengthAdjust="spacingAndGlyphs" stroke="#fff" stroke-width="0.75" stroke-linejoin="round">소득구성</text>
<text x="418.30" y="671.00" font-size="8.6" font-weight="500" fill="#1c2740" textLength="61.20" lengthAdjust="spacingAndGlyphs" stroke="#1c2740" stroke-width="0.22"><tspan font-size="8.00">수급비</tspan>(61.3%)</text>
<path d="M511.50,653.70 H725.40 V658.80 L625.90,658.80 L613.50,675.00 H511.50 Z" fill="#514191"/>
<text x="541.98" y="669.60" font-size="12.0" font-weight="900" fill="#fff" textLength="50.39" lengthAdjust="spacingAndGlyphs" stroke="#fff" stroke-width="0.75" stroke-linejoin="round">보장형태</text>
<text x="648.30" y="671.00" font-size="8.6" font-weight="500" fill="#1c2740" textLength="50.40" lengthAdjust="spacingAndGlyphs" stroke="#1c2740" stroke-width="0.22"><tspan font-size="8.00">수급자</tspan>(84%)</text>
<path d="M85.50,778.20 H254.00" stroke="#9a9aa6" stroke-width="0.8"/>
<text x="75.60" y="780.68" font-size="6.9" font-weight="400" fill="#777" text-anchor="middle">0%</text>
<path d="M85.50,765.54 H254.00" stroke="#e0e0e6" stroke-width="0.5"/>
<text x="75.60" y="768.03" font-size="6.9" font-weight="400" fill="#777" text-anchor="middle">10%</text>
<path d="M85.50,752.89 H254.00" stroke="#e0e0e6" stroke-width="0.5"/>
<text x="75.60" y="755.37" font-size="6.9" font-weight="400" fill="#777" text-anchor="middle">20%</text>
<path d="M85.50,740.23 H254.00" stroke="#e0e0e6" stroke-width="0.5"/>
<text x="75.60" y="742.71" font-size="6.9" font-weight="400" fill="#777" text-anchor="middle">30%</text>
<path d="M85.50,727.57 H254.00" stroke="#e0e0e6" stroke-width="0.5"/>
<text x="75.60" y="730.06" font-size="6.9" font-weight="400" fill="#777" text-anchor="middle">40%</text>
<path d="M85.50,714.91 H254.00" stroke="#e0e0e6" stroke-width="0.5"/>
<text x="75.60" y="717.40" font-size="6.9" font-weight="400" fill="#777" text-anchor="middle">50%</text>
<path d="M85.50,702.26 H254.00" stroke="#e0e0e6" stroke-width="0.5"/>
<text x="75.60" y="704.74" font-size="6.9" font-weight="400" fill="#777" text-anchor="middle">60%</text>
<path d="M85.50,689.60 H254.00" stroke="#e0e0e6" stroke-width="0.5"/>
<text x="75.60" y="692.08" font-size="6.9" font-weight="400" fill="#777" text-anchor="middle">70%</text>
<rect x="120.00" y="696.70" width="43.00" height="81.50" fill="#5b90e8" />
<rect x="184.50" y="731.70" width="43.30" height="46.50" fill="#7b53cf" />
<text x="123.45" y="713.40" font-size="11.7" font-weight="700" fill="#fff" textLength="35.20" lengthAdjust="spacingAndGlyphs">62.5%</text>
<text x="129.75" y="721.60" font-size="6.3" font-weight="400" fill="#fff" textLength="22.60" lengthAdjust="spacingAndGlyphs">(432<tspan font-size="5.29">명</tspan>)</text>
<text x="188.45" y="747.70" font-size="11.7" font-weight="700" fill="#fff" textLength="35.20" lengthAdjust="spacingAndGlyphs">37.5%</text>
<text x="194.75" y="756.00" font-size="6.3" font-weight="400" fill="#fff" textLength="22.60" lengthAdjust="spacingAndGlyphs">(259<tspan font-size="5.29">명</tspan>)</text>
<text x="132.75" y="789.20" font-size="8.0" font-weight="500" fill="#222" textLength="15.50" lengthAdjust="spacingAndGlyphs" stroke="#222" stroke-width="0.2"><tspan font-size="8.00">남성</tspan></text>
<text x="198.65" y="789.20" font-size="8.0" font-weight="500" fill="#222" textLength="15.70" lengthAdjust="spacingAndGlyphs" stroke="#222" stroke-width="0.2"><tspan font-size="8.00">여성</tspan></text>
<path d="M385.70,735.90 L387.38,687.93 A48,48 0 0 1 407.86,693.32 Z" fill="#ab62d6"/>
<path d="M385.70,735.90 L407.86,693.32 A48,48 0 0 1 423.00,766.11 Z" fill="#7b53cf"/>
<path d="M385.70,735.90 L423.00,766.11 A48,48 0 0 1 413.09,775.32 Z" fill="#26307f"/>
<path d="M385.70,735.90 L413.09,775.32 A48,48 0 1 1 384.53,687.91 Z" fill="#5b90e8"/>
<path d="M385.70,735.90 L384.53,687.91 A48,48 0 0 1 387.38,687.93 Z" fill="#a9a9ad"/>
<text x="347.25" y="750.60" font-size="11.9" font-weight="700" fill="#fff" textLength="33.70" lengthAdjust="spacingAndGlyphs">61.3%</text>
<text x="353.45" y="759.00" font-size="6.2" font-weight="400" fill="#fff" textLength="22.10" lengthAdjust="spacingAndGlyphs">(424<tspan font-size="5.21">명</tspan>)</text>
<text x="397.25" y="736.60" font-size="10.6" font-weight="700" fill="#fff" textLength="30.30" lengthAdjust="spacingAndGlyphs">26.5%</text>
<text x="402.45" y="742.60" font-size="5.3" font-weight="400" fill="#fff" textLength="20.20" lengthAdjust="spacingAndGlyphs">(183<tspan font-size="4.45">명</tspan>)</text>
<text x="386.55" y="700.60" font-size="6.4" font-weight="700" fill="#fff" textLength="14.60" lengthAdjust="spacingAndGlyphs">7.7%</text>
<text x="389.25" y="704.20" font-size="3.2" font-weight="400" fill="#fff" textLength="10.50" lengthAdjust="spacingAndGlyphs">(53<tspan font-size="2.69">명</tspan>)</text>
<path d="M371.2,686.2 L382,686.2 L385.2,689.5" stroke="#8a8a8a" stroke-width="0.4" fill="none"/>
<text x="354.25" y="687.30" font-size="6.2" font-weight="700" fill="#333" textLength="15.90" lengthAdjust="spacingAndGlyphs">0.5%</text>
<text x="357.95" y="690.80" font-size="3.0" font-weight="400" fill="#555" textLength="8.20" lengthAdjust="spacingAndGlyphs">(3<tspan font-size="2.52">명</tspan>)</text>
<path d="M416.1,771.6 L421,776.2" stroke="#8a8a8a" stroke-width="0.4" fill="none"/>
<text x="422.05" y="779.70" font-size="6.4" font-weight="700" fill="#333" textLength="10.00" lengthAdjust="spacingAndGlyphs">4%</text>
<text x="423.45" y="783.40" font-size="3.0" font-weight="400" fill="#555" textLength="8.60" lengthAdjust="spacingAndGlyphs">(28<tspan font-size="2.52">명</tspan>)</text>
<rect x="294.20" y="747.40" width="4.40" height="4.40" fill="#5b90e8" />
<text x="300.35" y="751.70" font-size="4.8" font-weight="500" fill="#333" textLength="13.10" lengthAdjust="spacingAndGlyphs"><tspan font-size="4.80">수급비</tspan></text>
<rect x="294.20" y="756.30" width="4.40" height="4.40" fill="#ab62d6" />
<text x="300.35" y="760.60" font-size="4.8" font-weight="500" fill="#333" textLength="13.10" lengthAdjust="spacingAndGlyphs"><tspan font-size="4.80">월급여</tspan></text>
<rect x="294.20" y="765.30" width="4.40" height="4.40" fill="#7b53cf" />
<text x="300.35" y="769.60" font-size="4.8" font-weight="500" fill="#333" textLength="8.80" lengthAdjust="spacingAndGlyphs"><tspan font-size="4.80">연금</tspan></text>
<rect x="294.20" y="774.30" width="4.40" height="4.40" fill="#26307f" />
<text x="300.35" y="778.60" font-size="4.8" font-weight="500" fill="#333" textLength="13.10" lengthAdjust="spacingAndGlyphs"><tspan font-size="4.80">기타액</tspan></text>
<rect x="294.20" y="783.30" width="4.40" height="4.40" fill="#a9a9ad" />
<text x="300.35" y="787.60" font-size="4.8" font-weight="500" fill="#333" textLength="17.50" lengthAdjust="spacingAndGlyphs"><tspan font-size="4.80">자영수입</tspan></text>
<path d="M547.30,778.30 H708.30" stroke="#9a9aa6" stroke-width="0.8"/>
<text x="533.00" y="780.78" font-size="6.9" font-weight="400" fill="#777" text-anchor="middle">0%</text>
<path d="M547.30,768.31 H708.30" stroke="#e0e0e6" stroke-width="0.5"/>
<text x="533.00" y="770.80" font-size="6.9" font-weight="400" fill="#777" text-anchor="middle">10%</text>
<path d="M547.30,758.32 H708.30" stroke="#e0e0e6" stroke-width="0.5"/>
<text x="533.00" y="760.81" font-size="6.9" font-weight="400" fill="#777" text-anchor="middle">20%</text>
<path d="M547.30,748.33 H708.30" stroke="#e0e0e6" stroke-width="0.5"/>
<text x="533.00" y="750.82" font-size="6.9" font-weight="400" fill="#777" text-anchor="middle">30%</text>
<path d="M547.30,738.34 H708.30" stroke="#e0e0e6" stroke-width="0.5"/>
<text x="533.00" y="740.83" font-size="6.9" font-weight="400" fill="#777" text-anchor="middle">40%</text>
<path d="M547.30,728.36 H708.30" stroke="#e0e0e6" stroke-width="0.5"/>
<text x="533.00" y="730.84" font-size="6.9" font-weight="400" fill="#777" text-anchor="middle">50%</text>
<path d="M547.30,718.37 H708.30" stroke="#e0e0e6" stroke-width="0.5"/>
<text x="533.00" y="720.85" font-size="6.9" font-weight="400" fill="#777" text-anchor="middle">60%</text>
<path d="M547.30,708.38 H708.30" stroke="#e0e0e6" stroke-width="0.5"/>
<text x="533.00" y="710.86" font-size="6.9" font-weight="400" fill="#777" text-anchor="middle">70%</text>
<path d="M547.30,698.39 H708.30" stroke="#e0e0e6" stroke-width="0.5"/>
<text x="533.00" y="700.87" font-size="6.9" font-weight="400" fill="#777" text-anchor="middle">80%</text>
<path d="M547.30,688.40 H708.30" stroke="#e0e0e6" stroke-width="0.5"/>
<text x="533.00" y="690.88" font-size="6.9" font-weight="400" fill="#777" text-anchor="middle">90%</text>
<rect x="558.00" y="693.10" width="35.30" height="85.20" fill="#5b90e8" />
<rect x="611.20" y="760.90" width="35.00" height="17.40" fill="#7b53cf" />
<rect x="663.00" y="774.10" width="33.10" height="4.20" fill="#7b53cf" />
<text x="563.25" y="707.70" font-size="11.6" font-weight="700" fill="#fff" textLength="24.90" lengthAdjust="spacingAndGlyphs">84%</text>
<text x="564.65" y="715.50" font-size="6.3" font-weight="400" fill="#fff" textLength="22.70" lengthAdjust="spacingAndGlyphs">(580<tspan font-size="5.29">명</tspan>)</text>
<text x="619.25" y="771.10" font-size="9.6" font-weight="700" fill="#fff" textLength="19.10" lengthAdjust="spacingAndGlyphs">13%</text>
<text x="621.15" y="775.80" font-size="4.2" font-weight="400" fill="#fff" textLength="15.20" lengthAdjust="spacingAndGlyphs">(90<tspan font-size="3.53">명</tspan>)</text>
<text x="666.65" y="771.90" font-size="8" font-weight="500" fill="#444" textLength="11.90" lengthAdjust="spacingAndGlyphs" stroke="#444" stroke-width="0.2">3%</text>
<text x="679.85" y="771.20" font-size="3.8" font-weight="400" fill="#555" textLength="13.00" lengthAdjust="spacingAndGlyphs">(21<tspan font-size="3.19">명</tspan>)</text>
<text x="564.15" y="789.90" font-size="8.0" font-weight="500" fill="#222" textLength="23.20" lengthAdjust="spacingAndGlyphs" stroke="#222" stroke-width="0.2"><tspan font-size="8.00">수급자</tspan></text>
<text x="620.65" y="789.90" font-size="8.0" font-weight="500" fill="#222" textLength="15.70" lengthAdjust="spacingAndGlyphs" stroke="#222" stroke-width="0.2"><tspan font-size="8.00">일반</tspan></text>
<text x="668.35" y="789.90" font-size="8.0" font-weight="500" fill="#222" textLength="22.60" lengthAdjust="spacingAndGlyphs" stroke="#222" stroke-width="0.2"><tspan font-size="8.00">차상위</tspan></text>
<rect x="54.70" y="805.90" width="213.90" height="141.50" fill="#eeeeee" />
<rect x="282.40" y="805.90" width="213.90" height="141.50" fill="#eeeeee" />
<rect x="511.50" y="805.90" width="213.90" height="141.50" fill="#eeeeee" />
<path d="M54.70,805.90 H268.60 V811.00 L170.30,811.00 L158.00,827.20 H54.70 Z" fill="#514191"/>
<text x="84.88" y="821.80" font-size="12.0" font-weight="900" fill="#fff" textLength="50.49" lengthAdjust="spacingAndGlyphs" stroke="#fff" stroke-width="0.75" stroke-linejoin="round">고용상태</text>
<text x="187.70" y="823.20" font-size="8.6" font-weight="500" fill="#1c2740" textLength="53.80" lengthAdjust="spacingAndGlyphs" stroke="#1c2740" stroke-width="0.22"><tspan font-size="8.00">무직</tspan>(88.2%)</text>
<path d="M282.40,805.90 H496.30 V811.00 L400.30,811.00 L388.00,827.20 H282.40 Z" fill="#514191"/>
<text x="312.57" y="821.80" font-size="12.0" font-weight="900" fill="#fff" textLength="50.39" lengthAdjust="spacingAndGlyphs" stroke="#fff" stroke-width="0.75" stroke-linejoin="round">주거형태</text>
<text x="422.10" y="823.20" font-size="8.6" font-weight="500" fill="#1c2740" textLength="53.90" lengthAdjust="spacingAndGlyphs" stroke="#1c2740" stroke-width="0.22"><tspan font-size="8.00">월세</tspan>(59.9%)</text>
<path d="M511.50,805.90 H725.40 V811.00 L652.40,811.00 L640.70,827.20 H511.50 Z" fill="#514191"/>
<text x="519.78" y="821.80" font-size="12.0" font-weight="900" fill="#fff" textLength="43.02" lengthAdjust="spacingAndGlyphs" stroke="#fff" stroke-width="0.75" stroke-linejoin="round">재파산자</text>
<text x="572.28" y="821.80" font-size="12.0" font-weight="900" fill="#fff" textLength="10.30" lengthAdjust="spacingAndGlyphs" stroke="#fff" stroke-width="0.75" stroke-linejoin="round">중</text>
<text x="592.08" y="821.80" font-size="12.0" font-weight="900" fill="#fff" textLength="44.44" lengthAdjust="spacingAndGlyphs" stroke="#fff" stroke-width="0.75" stroke-linejoin="round">노인비율</text>
<text x="654.50" y="823.20" font-size="8.6" font-weight="500" fill="#1c2740" textLength="64.80" lengthAdjust="spacingAndGlyphs" stroke="#1c2740" stroke-width="0.22">60<tspan font-size="8.00">대</tspan> <tspan font-size="8.00">이상</tspan>(69%)</text>
<path d="M90.30,931.40 H251.30" stroke="#9a9aa6" stroke-width="0.8"/>
<text x="79.30" y="933.81" font-size="6.7" font-weight="400" fill="#777" text-anchor="middle">0%</text>
<path d="M90.30,921.94 H251.30" stroke="#e0e0e6" stroke-width="0.5"/>
<text x="79.30" y="924.35" font-size="6.7" font-weight="400" fill="#777" text-anchor="middle">10%</text>
<path d="M90.30,912.48 H251.30" stroke="#e0e0e6" stroke-width="0.5"/>
<text x="79.30" y="914.89" font-size="6.7" font-weight="400" fill="#777" text-anchor="middle">20%</text>
<path d="M90.30,903.02 H251.30" stroke="#e0e0e6" stroke-width="0.5"/>
<text x="79.30" y="905.43" font-size="6.7" font-weight="400" fill="#777" text-anchor="middle">30%</text>
<path d="M90.30,893.56 H251.30" stroke="#e0e0e6" stroke-width="0.5"/>
<text x="79.30" y="895.97" font-size="6.7" font-weight="400" fill="#777" text-anchor="middle">40%</text>
<path d="M90.30,884.10 H251.30" stroke="#e0e0e6" stroke-width="0.5"/>
<text x="79.30" y="886.51" font-size="6.7" font-weight="400" fill="#777" text-anchor="middle">50%</text>
<path d="M90.30,874.64 H251.30" stroke="#e0e0e6" stroke-width="0.5"/>
<text x="79.30" y="877.05" font-size="6.7" font-weight="400" fill="#777" text-anchor="middle">60%</text>
<path d="M90.30,865.18 H251.30" stroke="#e0e0e6" stroke-width="0.5"/>
<text x="79.30" y="867.59" font-size="6.7" font-weight="400" fill="#777" text-anchor="middle">70%</text>
<path d="M90.30,855.72 H251.30" stroke="#e0e0e6" stroke-width="0.5"/>
<text x="79.30" y="858.13" font-size="6.7" font-weight="400" fill="#777" text-anchor="middle">80%</text>
<path d="M90.30,846.26 H251.30" stroke="#e0e0e6" stroke-width="0.5"/>
<text x="79.30" y="848.67" font-size="6.7" font-weight="400" fill="#777" text-anchor="middle">90%</text>
<path d="M90.30,836.80 H251.30" stroke="#e0e0e6" stroke-width="0.5"/>
<text x="79.30" y="839.21" font-size="6.7" font-weight="400" fill="#777" text-anchor="middle">100%</text>
<rect x="102.40" y="924.50" width="36.10" height="6.90" fill="#7b53cf" />
<rect x="150.10" y="849.20" width="39.10" height="82.20" fill="#5b90e8" />
<rect x="200.50" y="925.90" width="35.60" height="5.50" fill="#7b53cf" />
<text x="111.75" y="916.80" font-size="8.2" font-weight="400" fill="#444" textLength="17.50" lengthAdjust="spacingAndGlyphs" stroke="#444" stroke-width="0.15">6.6%</text>
<text x="114.85" y="921.20" font-size="3.6" font-weight="400" fill="#555" textLength="11.60" lengthAdjust="spacingAndGlyphs">(45<tspan font-size="3.02">명</tspan>)</text>
<text x="155.35" y="864.40" font-size="10.3" font-weight="700" fill="#fff" textLength="28.70" lengthAdjust="spacingAndGlyphs">88.2%</text>
<text x="160.85" y="869.20" font-size="4.4" font-weight="400" fill="#fff" textLength="18.50" lengthAdjust="spacingAndGlyphs">(610<tspan font-size="3.70">명</tspan>)</text>
<text x="210.45" y="918.00" font-size="8.2" font-weight="400" fill="#444" textLength="18.00" lengthAdjust="spacingAndGlyphs" stroke="#444" stroke-width="0.15">5.1%</text>
<text x="213.25" y="922.40" font-size="3.6" font-weight="400" fill="#555" textLength="11.60" lengthAdjust="spacingAndGlyphs">(35<tspan font-size="3.02">명</tspan>)</text>
<text x="113.45" y="942.80" font-size="8.0" font-weight="500" fill="#222" textLength="14.10" lengthAdjust="spacingAndGlyphs" stroke="#222" stroke-width="0.2"><tspan font-size="8.00">고용</tspan></text>
<text x="162.25" y="942.80" font-size="8.0" font-weight="500" fill="#222" textLength="14.40" lengthAdjust="spacingAndGlyphs" stroke="#222" stroke-width="0.2"><tspan font-size="8.00">무직</tspan></text>
<text x="206.85" y="942.80" font-size="8.0" font-weight="500" fill="#222" textLength="22.70" lengthAdjust="spacingAndGlyphs" stroke="#222" stroke-width="0.2"><tspan font-size="8.00">일용직</tspan></text>
<path d="M314.70,931.60 H482.00" stroke="#9a9aa6" stroke-width="0.8"/>
<text x="305.20" y="934.08" font-size="6.9" font-weight="400" fill="#777" text-anchor="middle">0%</text>
<path d="M314.70,918.17 H482.00" stroke="#e0e0e6" stroke-width="0.5"/>
<text x="305.20" y="920.66" font-size="6.9" font-weight="400" fill="#777" text-anchor="middle">10%</text>
<path d="M314.70,904.74 H482.00" stroke="#e0e0e6" stroke-width="0.5"/>
<text x="305.20" y="907.23" font-size="6.9" font-weight="400" fill="#777" text-anchor="middle">20%</text>
<path d="M314.70,891.31 H482.00" stroke="#e0e0e6" stroke-width="0.5"/>
<text x="305.20" y="893.80" font-size="6.9" font-weight="400" fill="#777" text-anchor="middle">30%</text>
<path d="M314.70,877.89 H482.00" stroke="#e0e0e6" stroke-width="0.5"/>
<text x="305.20" y="880.37" font-size="6.9" font-weight="400" fill="#777" text-anchor="middle">40%</text>
<path d="M314.70,864.46 H482.00" stroke="#e0e0e6" stroke-width="0.5"/>
<text x="305.20" y="866.94" font-size="6.9" font-weight="400" fill="#777" text-anchor="middle">50%</text>
<path d="M314.70,851.03 H482.00" stroke="#e0e0e6" stroke-width="0.5"/>
<text x="305.20" y="853.51" font-size="6.9" font-weight="400" fill="#777" text-anchor="middle">60%</text>
<path d="M314.70,837.60 H482.00" stroke="#e0e0e6" stroke-width="0.5"/>
<text x="305.20" y="840.08" font-size="6.9" font-weight="400" fill="#777" text-anchor="middle">70%</text>
<rect x="321.00" y="921.20" width="20.70" height="10.40" fill="#7b53cf" />
<text x="323.55" y="914.80" font-size="6.9" font-weight="400" fill="#444" textLength="15.80" lengthAdjust="spacingAndGlyphs" stroke="#444" stroke-width="0.12">7.3%</text>
<text x="331.35" y="918.80" font-size="3.2" font-weight="400" fill="#555" text-anchor="middle">(50명)</text>
<text x="322.75" y="941.40" font-size="6.0" font-weight="500" fill="#222" textLength="17.10" lengthAdjust="spacingAndGlyphs" stroke="#222" stroke-width="0.15"><tspan font-size="6.00">고시원</tspan></text>
<rect x="348.30" y="927.80" width="20.70" height="3.80" fill="#7b53cf" />
<text x="351.15" y="921.40" font-size="6.9" font-weight="400" fill="#444" textLength="14.90" lengthAdjust="spacingAndGlyphs" stroke="#444" stroke-width="0.12">2.9%</text>
<text x="358.65" y="925.40" font-size="3.2" font-weight="400" fill="#555" text-anchor="middle">(20명)</text>
<text x="353.05" y="941.40" font-size="6.0" font-weight="500" fill="#222" textLength="11.60" lengthAdjust="spacingAndGlyphs" stroke="#222" stroke-width="0.15"><tspan font-size="6.00">기타</tspan></text>
<rect x="375.30" y="909.30" width="21.30" height="22.30" fill="#7b53cf" />
<text x="376.45" y="918.70" font-size="6.8" font-weight="700" fill="#fff" textLength="19.40" lengthAdjust="spacingAndGlyphs">16.3%</text>
<text x="385.95" y="922.90" font-size="3.2" font-weight="400" fill="#fff" text-anchor="middle">(113명)</text>
<text x="375.05" y="941.40" font-size="6.0" font-weight="500" fill="#222" textLength="22.10" lengthAdjust="spacingAndGlyphs" stroke="#222" stroke-width="0.15"><tspan font-size="6.00">무상거주</tspan></text>
<rect x="402.90" y="853.40" width="21.20" height="78.20" fill="#5b90e8" />
<text x="404.05" y="863.80" font-size="6.8" font-weight="700" fill="#fff" textLength="19.90" lengthAdjust="spacingAndGlyphs">59.9%</text>
<text x="413.50" y="869.00" font-size="3.2" font-weight="400" fill="#fff" text-anchor="middle">(414명)</text>
<text x="407.35" y="941.40" font-size="6.0" font-weight="500" fill="#222" textLength="11.60" lengthAdjust="spacingAndGlyphs" stroke="#222" stroke-width="0.15"><tspan font-size="6.00">월세</tspan></text>
<rect x="429.90" y="930.50" width="20.70" height="1.10" fill="#7b53cf" />
<text x="432.95" y="924.10" font-size="6.9" font-weight="400" fill="#444" textLength="15.20" lengthAdjust="spacingAndGlyphs" stroke="#444" stroke-width="0.12">0.2%</text>
<text x="440.25" y="928.10" font-size="3.2" font-weight="400" fill="#555" text-anchor="middle">(1명)</text>
<text x="434.35" y="941.40" font-size="6.0" font-weight="500" fill="#222" textLength="11.60" lengthAdjust="spacingAndGlyphs" stroke="#222" stroke-width="0.15"><tspan font-size="6.00">자가</tspan></text>
<rect x="457.20" y="914.80" width="20.90" height="16.80" fill="#7b53cf" />
<text x="458.35" y="924.20" font-size="6.8" font-weight="700" fill="#fff" textLength="19.30" lengthAdjust="spacingAndGlyphs">13.4%</text>
<text x="467.65" y="928.40" font-size="3.2" font-weight="400" fill="#fff" text-anchor="middle">(93명)</text>
<text x="461.95" y="941.40" font-size="6.0" font-weight="500" fill="#222" textLength="11.60" lengthAdjust="spacingAndGlyphs" stroke="#222" stroke-width="0.15"><tspan font-size="6.00">전세</tspan></text>
<path d="M619.30,887.60 L619.30,838.10 A49.5,49.5 0 0 1 664.16,908.52 Z" fill="#7b53cf"/>
<path d="M619.30,887.60 L664.16,908.52 A49.5,49.5 0 1 1 619.30,838.10 Z" fill="#5b90e8"/>
<text x="627.85" y="874.60" font-size="12.2" font-weight="700" fill="#fff" textLength="27.50" lengthAdjust="spacingAndGlyphs">31%</text>
<text x="631.85" y="883.80" font-size="6.4" font-weight="400" fill="#fff" textLength="20.80" lengthAdjust="spacingAndGlyphs">(39<tspan font-size="5.38">명</tspan>)</text>
<text x="586.15" y="904.20" font-size="12.2" font-weight="700" fill="#fff" textLength="28.30" lengthAdjust="spacingAndGlyphs">69%</text>
<text x="590.15" y="913.40" font-size="6.4" font-weight="400" fill="#fff" textLength="20.80" lengthAdjust="spacingAndGlyphs">(87<tspan font-size="5.38">명</tspan>)</text>
<rect x="525.20" y="923.60" width="3.70" height="3.70" fill="#5b90e8" />
<text x="530.95" y="927.20" font-size="4.6" font-weight="500" fill="#333" textLength="19.40" lengthAdjust="spacingAndGlyphs">60<tspan font-size="4.60">대</tspan> <tspan font-size="4.60">이상</tspan></text>
<rect x="525.20" y="932.60" width="3.70" height="3.70" fill="#7b53cf" />
<text x="530.95" y="936.20" font-size="4.6" font-weight="500" fill="#333" textLength="19.40" lengthAdjust="spacingAndGlyphs">60<tspan font-size="4.60">대</tspan> <tspan font-size="4.60">이하</tspan></text>
<text x="724.00" y="961.20" font-size="5.9" font-weight="400" fill="#333" text-anchor="end" textLength="304.00" lengthAdjust="spacingAndGlyphs">※ 2025년 서울금융복지상담센터에서 채무조정을 받은 서울시민(1,192명) 중 60대 이상(691명) 대상</text>
<g>
<path d="M600,193.0 V172 H606 V166 H612 V172 H618 V160 L624,155 L630,160 V193.0 Z M646,193.0 V150 H652 V146 H657 V150 H662 V193.0 Z" fill="#9dcbf6"/>
<rect x="687" y="137.5" width="19.5" height="55.5" fill="#90c4f1"/>
<rect x="690.03" y="142.85" width="2.60" height="2.80" fill="#b9dcfb"/><rect x="695.50" y="142.85" width="2.60" height="2.80" fill="#b9dcfb"/><rect x="700.97" y="142.85" width="2.60" height="2.80" fill="#b9dcfb"/><rect x="690.03" y="149.35" width="2.60" height="2.80" fill="#b9dcfb"/><rect x="695.50" y="149.35" width="2.60" height="2.80" fill="#b9dcfb"/><rect x="700.97" y="149.35" width="2.60" height="2.80" fill="#b9dcfb"/><rect x="690.03" y="155.85" width="2.60" height="2.80" fill="#b9dcfb"/><rect x="695.50" y="155.85" width="2.60" height="2.80" fill="#b9dcfb"/><rect x="700.97" y="155.85" width="2.60" height="2.80" fill="#b9dcfb"/><rect x="690.03" y="162.35" width="2.60" height="2.80" fill="#b9dcfb"/><rect x="695.50" y="162.35" width="2.60" height="2.80" fill="#b9dcfb"/><rect x="700.97" y="162.35" width="2.60" height="2.80" fill="#b9dcfb"/><rect x="690.03" y="168.85" width="2.60" height="2.80" fill="#b9dcfb"/><rect x="695.50" y="168.85" width="2.60" height="2.80" fill="#b9dcfb"/><rect x="700.97" y="168.85" width="2.60" height="2.80" fill="#b9dcfb"/><rect x="690.03" y="175.35" width="2.60" height="2.80" fill="#b9dcfb"/><rect x="695.50" y="175.35" width="2.60" height="2.80" fill="#b9dcfb"/><rect x="700.97" y="175.35" width="2.60" height="2.80" fill="#b9dcfb"/>
<rect x="690" y="184.5" width="5.4" height="8.5" fill="#b9dcfb"/><rect x="696.6" y="184.5" width="5.4" height="8.5" fill="#b9dcfb"/>
<path d="M706.5,193.0 V158 H709 V154.6 H712.6 V158.5 L718.7,155.8 L728.5,163 V193.0 Z" fill="#90c4f1"/>
<rect x="709.59" y="166.17" width="2.20" height="2.50" fill="#b9dcfb"/><rect x="713.96" y="166.17" width="2.20" height="2.50" fill="#b9dcfb"/><rect x="718.34" y="166.17" width="2.20" height="2.50" fill="#b9dcfb"/><rect x="722.71" y="166.17" width="2.20" height="2.50" fill="#b9dcfb"/><rect x="709.59" y="172.00" width="2.20" height="2.50" fill="#b9dcfb"/><rect x="713.96" y="172.00" width="2.20" height="2.50" fill="#b9dcfb"/><rect x="718.34" y="172.00" width="2.20" height="2.50" fill="#b9dcfb"/><rect x="722.71" y="172.00" width="2.20" height="2.50" fill="#b9dcfb"/><rect x="709.59" y="177.83" width="2.20" height="2.50" fill="#b9dcfb"/><rect x="713.96" y="177.83" width="2.20" height="2.50" fill="#b9dcfb"/><rect x="718.34" y="177.83" width="2.20" height="2.50" fill="#b9dcfb"/><rect x="722.71" y="177.83" width="2.20" height="2.50" fill="#b9dcfb"/>
<rect x="713" y="183.5" width="7.6" height="9.5" fill="#b9dcfb"/>
<path d="M728.5,193.0 V147.9 H731.5 V130.8 H738.2 V119.9 H740 V130.8 H746 V147.9 H749.8 V193.0 Z" fill="#90c4f1"/>
<rect x="734.95" y="133.62" width="2.40" height="2.60" fill="#b9dcfb"/><rect x="740.05" y="133.62" width="2.40" height="2.60" fill="#b9dcfb"/><rect x="734.95" y="138.45" width="2.40" height="2.60" fill="#b9dcfb"/><rect x="740.05" y="138.45" width="2.40" height="2.60" fill="#b9dcfb"/><rect x="734.95" y="143.28" width="2.40" height="2.60" fill="#b9dcfb"/><rect x="740.05" y="143.28" width="2.40" height="2.60" fill="#b9dcfb"/>
<rect x="732.13" y="151.77" width="2.60" height="2.90" fill="#b9dcfb"/><rect x="737.80" y="151.77" width="2.60" height="2.90" fill="#b9dcfb"/><rect x="743.47" y="151.77" width="2.60" height="2.90" fill="#b9dcfb"/><rect x="732.13" y="158.20" width="2.60" height="2.90" fill="#b9dcfb"/><rect x="737.80" y="158.20" width="2.60" height="2.90" fill="#b9dcfb"/><rect x="743.47" y="158.20" width="2.60" height="2.90" fill="#b9dcfb"/><rect x="732.13" y="164.63" width="2.60" height="2.90" fill="#b9dcfb"/><rect x="737.80" y="164.63" width="2.60" height="2.90" fill="#b9dcfb"/><rect x="743.47" y="164.63" width="2.60" height="2.90" fill="#b9dcfb"/><rect x="732.13" y="171.07" width="2.60" height="2.90" fill="#b9dcfb"/><rect x="737.80" y="171.07" width="2.60" height="2.90" fill="#b9dcfb"/><rect x="743.47" y="171.07" width="2.60" height="2.90" fill="#b9dcfb"/><rect x="732.13" y="177.50" width="2.60" height="2.90" fill="#b9dcfb"/><rect x="737.80" y="177.50" width="2.60" height="2.90" fill="#b9dcfb"/><rect x="743.47" y="177.50" width="2.60" height="2.90" fill="#b9dcfb"/><rect x="732.13" y="183.93" width="2.60" height="2.90" fill="#b9dcfb"/><rect x="737.80" y="183.93" width="2.60" height="2.90" fill="#b9dcfb"/><rect x="743.47" y="183.93" width="2.60" height="2.90" fill="#b9dcfb"/>
<path d="M750.4,193.0 V168 L757.7,162 V193.0 Z" fill="#90c4f1"/>
<rect x="754.00" y="176.53" width="2.20" height="2.60" fill="#b9dcfb"/><rect x="754.00" y="182.20" width="2.20" height="2.60" fill="#b9dcfb"/><rect x="754.00" y="187.87" width="2.20" height="2.60" fill="#b9dcfb"/>
<path d="M586.5,193.0 C585.5,188 584,184 582.5,179 C580,171 580.5,160 588,154.5 C594,150.5 601,149.3 609,149.3 C616,149.3 621,150.5 625.5,153.5 C629,156 631.5,157.5 634.5,156.5 L636.2,154.2 L642,156.8 C641.5,165 639,175 633,181.5 C630.5,184 627.5,184.5 624.8,182.5 L623.5,193.0 Z" fill="#5c7b9a"/>
<path d="M592.2,193.0 L596.8,181.5 L601,193.0 Z" fill="#aad5fa"/>
<path d="M603.4,149.4 L609.6,166.5 L614.4,149.4 Z" fill="#fff"/>
<path d="M608.3,151.5 L610.7,151.5 L611.7,163.5 L609.7,167.2 L607.9,163.5 Z" fill="#c2563e"/>
<path d="M603.4,149.4 L609.6,168.6 L604.6,160.5 Z M614.4,149.4 L609.6,168.6 L613.8,160.5 Z" fill="#4a6683"/>
<path d="M609.6,168 L609.9,193.0 L609.3,193.0 Z" fill="#4a6683"/>
<rect x="606.8" y="143" width="4.6" height="7" fill="#f5d3c2"/>
<ellipse cx="609.4" cy="141.4" rx="4.2" ry="5.2" fill="#f5d3c2"/>
<path d="M602.2,141.2 C600.8,135 604.5,132.4 609,132.8 C613.8,132.6 616.6,135.5 615,139.8 C612.4,137.6 608.6,137.6 606.6,139.6 C605.6,141.6 605.7,143.8 605.4,145.4 C603.5,144.8 602.4,143.2 602.2,141.2 Z" fill="#1b2340"/>
<path d="M635.8,154.6 C634.8,151 635.8,148 637,146.6 L637.4,139.8 C637.6,138.6 639.2,138.6 639.4,139.8 L639.8,146.2 C642.5,146.6 643.8,149 643.4,152 C643,155 641.2,157.2 638.6,157 Z" fill="#f5d3c2"/>
<path d="M645,193.0 C642,188 638,184 636,178 C634.4,172 636,165 640.5,160.5 C644,157 648.5,154.5 653.5,153 L656.5,152.2 L665.6,152.2 C671,154 676.6,158.6 680.6,164.6 C684,170 685.8,176 685,181.6 C684.2,186.4 681.6,190 678.4,193.0 Z" fill="#1e3560"/>
<path d="M656.8,152.4 L665,152.4 L662.6,168.5 L658.6,168.5 Z" fill="#f4f0c4"/>
<rect x="658.2" y="147" width="4.8" height="7" fill="#f5d3c2"/>
<ellipse cx="660" cy="145.4" rx="4.2" ry="5" fill="#f5d3c2"/>
<path d="M655,142.5 C654.6,137.8 657.8,135.6 661.6,135.8 C666,136 668,139.4 666.8,143.5 C669.2,145.5 670.8,148 671.2,151.8 C668.8,150.8 666.8,149 665.6,146.8 C664.6,144 663.8,141.6 662.2,140.2 C659.8,140.4 657,141.2 655,142.5 Z" fill="#1b2340"/>
<path d="M637,169 C640,161.5 645,157 650.4,155.4 L656.8,157.6 C654.4,163 650.4,168 645.4,172 Z" fill="#1e3560"/>
<path d="M649.6,158.6 C649,154.4 651,151 654.6,149.6 C656.6,149.2 657.6,150.4 656.6,151.8 C655.4,153 655.2,155 655.6,157.4 Z" fill="#f5d3c2"/>
<path d="M635.6,164.2 L660.8,164.2 L663.6,179.6 L640.4,180.4 Z" fill="#e4e8ef"/>
<path d="M663.6,179.6 L671.5,179.6 L671.5,180.8 L640.4,180.8 Z" fill="#c9d1de"/>
<path d="M644,180.6 C646,178.6 650,178.2 653,180 C655.6,181.6 656.2,184 654,185 C650,186 645.6,184 644,180.6 Z" fill="#f5d3c2"/>
</g>
<g>
<path d="M626,638.0 V600 L634,594 L643,601 V638.0 Z" fill="#c9b8e8"/>
<path d="M643,638.0 V592 H648.2 V589.4 H653.8 V582.5 H654.8 V589.4 H661.2 V592 H665.5 V638.0 Z" fill="#c9b8e8"/>
<rect x="647.93" y="599.26" width="2.60" height="2.90" fill="#ddcff4"/><rect x="653.20" y="599.26" width="2.60" height="2.90" fill="#ddcff4"/><rect x="658.47" y="599.26" width="2.60" height="2.90" fill="#ddcff4"/><rect x="647.93" y="605.67" width="2.60" height="2.90" fill="#ddcff4"/><rect x="653.20" y="605.67" width="2.60" height="2.90" fill="#ddcff4"/><rect x="658.47" y="605.67" width="2.60" height="2.90" fill="#ddcff4"/><rect x="647.93" y="612.09" width="2.60" height="2.90" fill="#ddcff4"/><rect x="653.20" y="612.09" width="2.60" height="2.90" fill="#ddcff4"/><rect x="658.47" y="612.09" width="2.60" height="2.90" fill="#ddcff4"/><rect x="647.93" y="618.51" width="2.60" height="2.90" fill="#ddcff4"/><rect x="653.20" y="618.51" width="2.60" height="2.90" fill="#ddcff4"/><rect x="658.47" y="618.51" width="2.60" height="2.90" fill="#ddcff4"/><rect x="647.93" y="624.92" width="2.60" height="2.90" fill="#ddcff4"/><rect x="653.20" y="624.92" width="2.60" height="2.90" fill="#ddcff4"/><rect x="658.47" y="624.92" width="2.60" height="2.90" fill="#ddcff4"/><rect x="647.93" y="631.34" width="2.60" height="2.90" fill="#ddcff4"/><rect x="653.20" y="631.34" width="2.60" height="2.90" fill="#ddcff4"/><rect x="658.47" y="631.34" width="2.60" height="2.90" fill="#ddcff4"/>
<path d="M666.3,638.0 V619 C666.3,612 686.2,612 686.2,619 V638.0 Z" fill="#c9b8e8"/>
<rect x="668.65" y="622.08" width="2.30" height="2.50" fill="#ddcff4"/><rect x="673.05" y="622.08" width="2.30" height="2.50" fill="#ddcff4"/><rect x="677.45" y="622.08" width="2.30" height="2.50" fill="#ddcff4"/><rect x="681.85" y="622.08" width="2.30" height="2.50" fill="#ddcff4"/><rect x="668.65" y="627.75" width="2.30" height="2.50" fill="#ddcff4"/><rect x="673.05" y="627.75" width="2.30" height="2.50" fill="#ddcff4"/><rect x="677.45" y="627.75" width="2.30" height="2.50" fill="#ddcff4"/><rect x="681.85" y="627.75" width="2.30" height="2.50" fill="#ddcff4"/><rect x="668.65" y="633.42" width="2.30" height="2.50" fill="#ddcff4"/><rect x="673.05" y="633.42" width="2.30" height="2.50" fill="#ddcff4"/><rect x="677.45" y="633.42" width="2.30" height="2.50" fill="#ddcff4"/><rect x="681.85" y="633.42" width="2.30" height="2.50" fill="#ddcff4"/>
<rect x="687" y="582.5" width="19" height="55.5" fill="#c9b8e8"/>
<rect x="689.92" y="587.76" width="2.70" height="2.90" fill="#ddcff4"/><rect x="695.25" y="587.76" width="2.70" height="2.90" fill="#ddcff4"/><rect x="700.58" y="587.76" width="2.70" height="2.90" fill="#ddcff4"/><rect x="689.92" y="594.17" width="2.70" height="2.90" fill="#ddcff4"/><rect x="695.25" y="594.17" width="2.70" height="2.90" fill="#ddcff4"/><rect x="700.58" y="594.17" width="2.70" height="2.90" fill="#ddcff4"/><rect x="689.92" y="600.59" width="2.70" height="2.90" fill="#ddcff4"/><rect x="695.25" y="600.59" width="2.70" height="2.90" fill="#ddcff4"/><rect x="700.58" y="600.59" width="2.70" height="2.90" fill="#ddcff4"/><rect x="689.92" y="607.01" width="2.70" height="2.90" fill="#ddcff4"/><rect x="695.25" y="607.01" width="2.70" height="2.90" fill="#ddcff4"/><rect x="700.58" y="607.01" width="2.70" height="2.90" fill="#ddcff4"/><rect x="689.92" y="613.42" width="2.70" height="2.90" fill="#ddcff4"/><rect x="695.25" y="613.42" width="2.70" height="2.90" fill="#ddcff4"/><rect x="700.58" y="613.42" width="2.70" height="2.90" fill="#ddcff4"/><rect x="689.92" y="619.84" width="2.70" height="2.90" fill="#ddcff4"/><rect x="695.25" y="619.84" width="2.70" height="2.90" fill="#ddcff4"/><rect x="700.58" y="619.84" width="2.70" height="2.90" fill="#ddcff4"/>
<rect x="690.4" y="628" width="5.2" height="10" fill="#ddcff4"/><rect x="696.8" y="628" width="5.2" height="10" fill="#ddcff4"/>
<path d="M706,638.0 V602 H708.6 V599.6 H712.2 V603 L716.5,600.6 L727.8,608 V638.0 Z" fill="#c9b8e8"/>
<rect x="709.73" y="611.08" width="2.30" height="2.50" fill="#ddcff4"/><rect x="713.88" y="611.08" width="2.30" height="2.50" fill="#ddcff4"/><rect x="718.02" y="611.08" width="2.30" height="2.50" fill="#ddcff4"/><rect x="722.17" y="611.08" width="2.30" height="2.50" fill="#ddcff4"/><rect x="709.73" y="616.75" width="2.30" height="2.50" fill="#ddcff4"/><rect x="713.88" y="616.75" width="2.30" height="2.50" fill="#ddcff4"/><rect x="718.02" y="616.75" width="2.30" height="2.50" fill="#ddcff4"/><rect x="722.17" y="616.75" width="2.30" height="2.50" fill="#ddcff4"/><rect x="709.73" y="622.42" width="2.30" height="2.50" fill="#ddcff4"/><rect x="713.88" y="622.42" width="2.30" height="2.50" fill="#ddcff4"/><rect x="718.02" y="622.42" width="2.30" height="2.50" fill="#ddcff4"/><rect x="722.17" y="622.42" width="2.30" height="2.50" fill="#ddcff4"/>
<rect x="712.6" y="628" width="7.4" height="10" fill="#ddcff4"/>
<path d="M727.8,638.0 V592.9 H732 V575.6 H738.4 V565.2 H739.6 V575.6 H746.3 V592.9 H749.4 V638.0 Z" fill="#c9b8e8"/>
<rect x="735.45" y="578.52" width="2.50" height="2.80" fill="#ddcff4"/><rect x="740.45" y="578.52" width="2.50" height="2.80" fill="#ddcff4"/><rect x="735.45" y="583.35" width="2.50" height="2.80" fill="#ddcff4"/><rect x="740.45" y="583.35" width="2.50" height="2.80" fill="#ddcff4"/><rect x="735.45" y="588.18" width="2.50" height="2.80" fill="#ddcff4"/><rect x="740.45" y="588.18" width="2.50" height="2.80" fill="#ddcff4"/>
<rect x="731.55" y="596.76" width="2.70" height="2.90" fill="#ddcff4"/><rect x="737.35" y="596.76" width="2.70" height="2.90" fill="#ddcff4"/><rect x="743.15" y="596.76" width="2.70" height="2.90" fill="#ddcff4"/><rect x="731.55" y="603.17" width="2.70" height="2.90" fill="#ddcff4"/><rect x="737.35" y="603.17" width="2.70" height="2.90" fill="#ddcff4"/><rect x="743.15" y="603.17" width="2.70" height="2.90" fill="#ddcff4"/><rect x="731.55" y="609.59" width="2.70" height="2.90" fill="#ddcff4"/><rect x="737.35" y="609.59" width="2.70" height="2.90" fill="#ddcff4"/><rect x="743.15" y="609.59" width="2.70" height="2.90" fill="#ddcff4"/><rect x="731.55" y="616.01" width="2.70" height="2.90" fill="#ddcff4"/><rect x="737.35" y="616.01" width="2.70" height="2.90" fill="#ddcff4"/><rect x="743.15" y="616.01" width="2.70" height="2.90" fill="#ddcff4"/><rect x="731.55" y="622.42" width="2.70" height="2.90" fill="#ddcff4"/><rect x="737.35" y="622.42" width="2.70" height="2.90" fill="#ddcff4"/><rect x="743.15" y="622.42" width="2.70" height="2.90" fill="#ddcff4"/><rect x="731.55" y="628.84" width="2.70" height="2.90" fill="#ddcff4"/><rect x="737.35" y="628.84" width="2.70" height="2.90" fill="#ddcff4"/><rect x="743.15" y="628.84" width="2.70" height="2.90" fill="#ddcff4"/>
<path d="M750.3,638.0 V613 L758,607.5 V638.0 Z" fill="#c9b8e8"/>
<rect x="754.05" y="621.53" width="2.30" height="2.60" fill="#ddcff4"/><rect x="754.05" y="627.20" width="2.30" height="2.60" fill="#ddcff4"/><rect x="754.05" y="632.87" width="2.30" height="2.60" fill="#ddcff4"/>
<path d="M586.5,612 L587.6,594.5 L596.6,594.5 C597.6,602 597,610 595,617 Z" fill="#3f9ee4"/>
<path d="M586.6,590 C585.6,586 587,583 590.2,582.6 C593.6,582.4 595.6,584.6 595.2,588 C595,590.4 594.6,592.6 594.2,594.8 L588,594.8 Z" fill="#f7d2c0"/>
<path d="M543.5,638.0 C543,626 544.5,614 550,606.5 C554,601 561,599 570,598.6 C579,599 587,601 591.5,606 C595.5,612 596.5,625 596,638.0 Z" fill="#3f9ee4"/>
<path d="M563,599 L570.2,608.5 L577.4,599 L574.5,597.6 L565.8,597.6 Z" fill="#fff"/>
<rect x="567.2" y="593" width="6" height="7" fill="#f7d2c0"/>
<ellipse cx="570.3" cy="590" rx="5.6" ry="6.4" fill="#f7d2c0"/>
<path d="M563.4,589 C561.6,582 565.4,578.6 570.6,578.6 C576.2,578.6 579.4,582.4 577.4,589 C576.4,586.6 574.6,585 572,584.6 C568.6,584.4 565.2,585.6 563.4,589 Z" fill="#9b9b9b"/>
<path d="M566.2,588.6 a1.9,1.9 0 1 0 3.8,0 a1.9,1.9 0 1 0 -3.8,0 M571,588.6 a1.9,1.9 0 1 0 3.8,0 a1.9,1.9 0 1 0 -3.8,0" fill="none" stroke="#6a5a55" stroke-width="0.5"/>
<path d="M567.6,592.6 C569,594.6 572,594.6 573.4,592.6 Z" fill="#fff"/>
<rect x="535" y="628.4" width="25.5" height="4.8" rx="0.8" fill="#3c76d6"/><rect x="542" y="629.2" width="18.5" height="3.2" fill="#eef2fa"/>
<rect x="534" y="633.2" width="27.5" height="4.8" rx="0.8" fill="#2f62bd"/><rect x="550" y="634" width="11.5" height="3.2" fill="#eef2fa"/>
<path d="M560.5,638.0 C560.5,633 563,630.4 566,630.6 C569,631 570.4,634 570,638.0 Z" fill="#f7d2c0"/>
<path d="M590,638.0 C588,630 588,620 590.5,612 C593,604.5 599,600.4 607,599.4 L619,599.4 C627,600.4 633,605 635.4,613 C637.6,621 637,630 634,638.0 Z" fill="#b87fe4"/>
<path d="M605.4,600.2 L609.6,605.4 L613.2,601.4 L617.2,605 L620.6,599.6 L617,597 L608.6,597 Z" fill="#fff"/>
<rect x="610" y="594" width="5.4" height="6" fill="#f7d2c0"/>
<circle cx="613.6" cy="587.6" r="8.4" fill="#a9a9ab"/>
<ellipse cx="611.6" cy="590.6" rx="5.4" ry="6.2" fill="#f7d2c0"/>
<path d="M605.6,589 C606,584.6 609.6,582.4 613.6,582.8 C616,583.4 617.6,585.6 617.4,588.6 C614,588.4 610,587 608,585.6 C607,586.6 606.2,587.8 605.6,589 Z" fill="#a9a9ab"/>
<path d="M591.4,612.6 C591.2,611.6 591.8,611 592.8,611 L607.6,610.4 C608.6,610.4 609.2,611 609.4,611.8 L612,629.4 C612.2,630.4 611.6,631 610.6,631 L596.6,631.4 C595.6,631.4 595,630.8 594.8,629.8 Z" fill="#4b4b4d"/>
<path d="M601.6,623 C603.6,620.6 608,620 611.6,621.4 C615,622.8 616.4,626 614.6,628.4 C611,629.6 604.6,628 601.6,623 Z" fill="#f7d2c0"/>
<path d="M594.6,611 C595,609 597,608.4 598.6,609.4 L598,611 Z" fill="#f7d2c0"/>
</g>
</svg></body></html>
